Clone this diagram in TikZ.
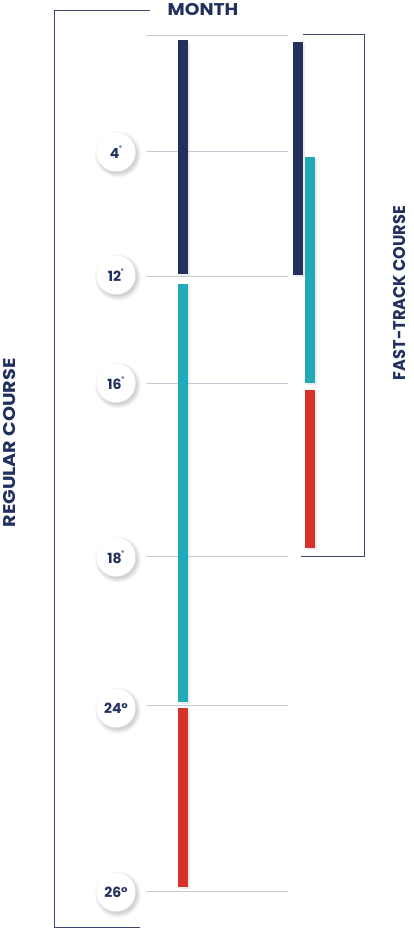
\documentclass[tikz,border=0pt]{standalone}
\usepackage{fontspec}
\setmainfont{Poppins}
\usetikzlibrary{shadows}
\definecolor{navy}{HTML}{22305E}
\definecolor{teal}{HTML}{20A9B7}
\definecolor{redbar}{HTML}{D7322A}
\definecolor{grid}{HTML}{C8C8D8}
\definecolor{frame}{HTML}{3C4872}
\begin{document}
\begin{tikzpicture}[x=1pt,y=-1pt,
  gridline/.style={draw=grid,line width=0.9pt},
  framel/.style={draw=frame,line width=1pt},
  barshadow/.style={drop shadow={opacity=0.15,shadow xshift=2pt,shadow yshift=-2pt}},
  badge/.style={circle,fill=white,minimum size=39pt,inner sep=0pt,
    text=navy,font=\bfseries\fontsize{14}{14}\selectfont},
  title/.style={text=navy,font=\bfseries\fontsize{17}{17}\selectfont}]
\useasboundingbox (0,0) rectangle (413,928);
\fill[white] (0,0) rectangle (413,928);
% left bracket
\coordinate (lt) at (150,11);
\coordinate (ltc) at (54,11);
\coordinate (lbc) at (54,927);
\coordinate (lb) at (140,927);
\draw[framel] (lt) -- (ltc) -- (lbc) -- (lb);
% right bracket
\coordinate (rt) at (303,35);
\coordinate (rtc) at (364,35);
\coordinate (rbc) at (364,556);
\coordinate (rb) at (301,556);
\draw[framel] (rt) -- (rtc) -- (rbc) -- (rb);
% grid lines
\foreach \n/\y in {g0/35,g4/151,g12/276,g16/383,g18/556,g24/705,g26/891}{
  \coordinate (\n a) at (147,\y);
  \coordinate (\n b) at (288,\y);
  \draw[gridline] (\n a) -- (\n b);
}
% bars left
\fill[navy,barshadow] (178,40) rectangle (188,274);
\fill[teal,barshadow] (178,284) rectangle (188,702);
\fill[redbar,barshadow] (178,708) rectangle (188,887);
% bars right
\fill[navy,barshadow] (293,42) rectangle (303,275);
\fill[teal,barshadow] (305,157) rectangle (315,383);
\fill[redbar,barshadow] (305,390) rectangle (315,548);
% badge shadows
\foreach \y in {152,275,383,557,708,892}{
  \foreach \r in {19,20,21,22,23}{
    \fill[black,opacity=0.035] (118,\y+2.5) circle[radius=\r];
  }
}
% badges
\node[badge] (b4) at (116,152) {4\textsuperscript{\small ˚}};
\node[badge] (b12) at (116,275) {12\textsuperscript{\small ˚}};
\node[badge] (b16) at (116,383) {16\textsuperscript{\small ˚}};
\node[badge] (b18) at (116,557) {18\textsuperscript{\small ˚}};
\node[badge] (b24) at (116,708) {24°};
\node[badge] (b26) at (116,892) {26°};
% titles
\node[title,xscale=1.1] (month) at (203,10) {MONTH};
\node[title,rotate=90,xscale=1.13] (reg) at (10,443) {REGULAR COURSE};
\node[title,rotate=90,xscale=0.95] (fast) at (400,293) {FAST-TRACK COURSE};
\end{tikzpicture}
\end{document}
